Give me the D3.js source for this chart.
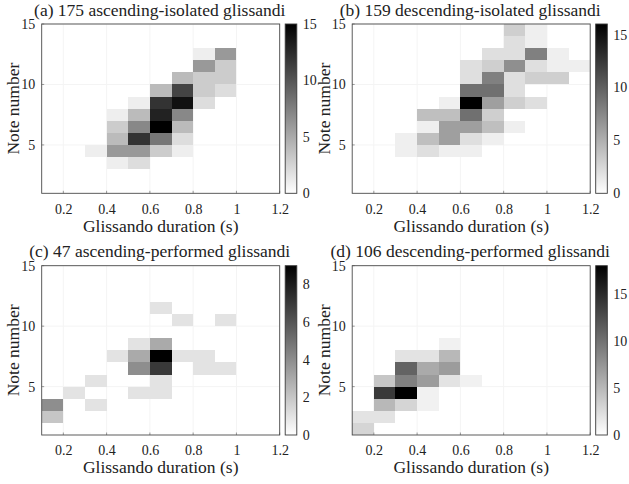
<!DOCTYPE html>
<html>
<head>
<meta charset="utf-8">
<script src="https://cdn.jsdelivr.net/npm/d3@7"></script>
<style>
  body { margin: 0; background: #fff; }
  svg text { font-family: "Liberation Serif", "Times New Roman", serif; fill: #222; }
</style>
</head>
<body>
<div id="plot"></div>
<script>
// glissando histograms: duration (s) x note number, counts per cell
// each cell: [duration bin start, note bin start, count]
var cellsA = [
  [0.8,12,1],[0.9,12,6],
  [0.8,11,6],[0.9,11,3],
  [0.7,10,4],[0.8,10,3],[0.9,10,3],
  [0.6,9,4],[0.7,9,11],[0.8,9,3],[0.9,9,2],
  [0.5,8,1],[0.6,8,12],[0.7,8,14],[0.8,8,2],
  [0.4,7,1],[0.5,7,4],[0.6,7,13],[0.7,7,7],
  [0.4,6,3],[0.5,6,7],[0.6,6,15],[0.7,6,4],
  [0.4,5,4],[0.5,5,12],[0.6,5,8],[0.7,5,2],
  [0.3,4,1],[0.4,4,6],[0.5,4,6],[0.6,4,3],[0.7,4,1],
  [0.4,3,1],[0.5,3,2]
];
var cellsB = [
  [0.8,14,3],[0.9,14,1],
  [0.8,13,2],[0.9,13,1],
  [0.7,12,2],[0.8,12,2],[0.9,12,8],[1.0,12,1],
  [0.6,11,2],[0.7,11,3],[0.8,11,7],[0.9,11,2],[1.0,11,1],[1.1,11,1],
  [0.6,10,2],[0.7,10,8],[0.8,10,2],[0.9,10,3],[1.0,10,3],
  [0.6,9,9],[0.7,9,9],[0.8,9,2],
  [0.5,8,1],[0.6,8,16],[0.7,8,6],[0.8,8,3],[0.9,8,2],
  [0.4,7,4],[0.5,7,4],[0.6,7,9],[0.7,7,3],
  [0.4,6,1],[0.5,6,6],[0.6,6,6],[0.7,6,4],[0.8,6,1],
  [0.3,5,1],[0.4,5,4],[0.5,5,6],[0.6,5,2],[0.7,5,1],
  [0.3,4,1],[0.4,4,2],[0.5,4,1],[0.6,4,1]
];
var cellsC = [
  [0.6,11,1],
  [0.7,10,1],[0.9,10,1],
  [0.5,8,1],[0.6,8,3],
  [0.4,7,1],[0.5,7,3],[0.6,7,9],[0.7,7,1],[0.8,7,1],
  [0.5,6,4],[0.6,6,7],[0.8,6,1],[0.9,6,1],
  [0.3,5,1],[0.6,5,1],
  [0.2,4,1],[0.5,4,1],[0.6,4,1],
  [0.1,3,4],[0.3,3,1],
  [0.1,2,2]
];
var cellsD = [
  [0.5,8,1],
  [0.3,7,2],[0.4,7,2],[0.5,7,5],
  [0.3,6,11],[0.4,6,6],[0.5,6,7],
  [0.2,5,4],[0.3,5,9],[0.4,5,7],[0.5,5,2],[0.6,5,1],
  [0.2,4,14],[0.3,4,18],[0.4,4,1],
  [0.2,3,5],[0.3,3,3],[0.4,3,1],
  [0.1,2,2],[0.2,2,2],
  [0.1,1,3]
];

var titles = ["(a) 175 ascending-isolated glissandi", "(b) 159 descending-isolated glissandi",
              "(c) 47 ascending-performed glissandi", "(d) 106 descending-performed glissandi"];
var cbarMax = [15, 16, 9, 18];
var cbarTicks = [[0,5,10,15],[0,5,10,15],[0,2,4,6,8],[0,5,10,15]];
var xTicks = [0.2,0.4,0.6,0.8,1,1.2];
var yTicks = [5,10,15];
var binW = 0.1, binH = 1;

var allCells = [cellsA, cellsB, cellsC, cellsD];

var width = 629, height = 484;
var pw = 238, ph = 169.3;
var lefts = [41.7, 352.2], tops = [24, 265.7];

var svg = d3.select('#plot').append('svg')
    .attr('width', width).attr('height', height);

var defs = svg.append('defs');
var grad = defs.append('linearGradient').attr('id','cgrad')
    .attr('x1',0).attr('y1',1).attr('x2',0).attr('y2',0);
grad.append('stop').attr('offset','0%').attr('stop-color','#fff');
grad.append('stop').attr('offset','100%').attr('stop-color','#000');

var x = d3.scaleLinear().domain([0.1,1.2]).range([0,pw]);
var y = d3.scaleLinear().domain([1,15]).range([ph,0]);

allCells.forEach(function(cells, i){
    var g = svg.append('g')
        .attr('transform','translate('+lefts[i%2]+','+tops[Math.floor(i/2)]+')');
    var color = d3.scaleLinear().domain([0,cbarMax[i]]).range(['#fff','#000']);

    g.append('rect').attr('width',pw).attr('height',ph).attr('fill','#fff');

    // faint grid
    g.selectAll('.gx').data(xTicks).enter().append('line')
        .attr('x1',d=>x(d)).attr('x2',d=>x(d)).attr('y1',0).attr('y2',ph)
        .attr('stroke','#f4f4f4');
    g.selectAll('.gy').data(yTicks).enter().append('line')
        .attr('y1',d=>y(d)).attr('y2',d=>y(d)).attr('x1',0).attr('x2',pw)
        .attr('stroke','#f4f4f4');

    g.selectAll('.cell').data(cells).enter().append('rect')
        .attr('x',d=>x(d[0]))
        .attr('y',d=>y(d[1]+binH))
        .attr('width',d=>x(d[0]+binW)-x(d[0]))
        .attr('height',d=>y(d[1])-y(d[1]+binH))
        .attr('fill',d=>color(d[2]))
        .attr('shape-rendering','crispEdges');

    // inward tick marks
    g.selectAll('.tx').data(xTicks).enter().append('line')
        .attr('x1',d=>x(d)).attr('x2',d=>x(d)).attr('y1',ph).attr('y2',ph-2.5)
        .attr('stroke','#999');
    g.selectAll('.ty').data(yTicks).enter().append('line')
        .attr('y1',d=>y(d)).attr('y2',d=>y(d)).attr('x1',0).attr('x2',2.5)
        .attr('stroke','#999');

    g.append('rect').attr('width',pw).attr('height',ph)
        .attr('fill','none').attr('stroke','#4a4a4a').attr('stroke-width',0.9);

    // axes
    var xa = g.append('g').attr('transform','translate(0,'+ph+')')
        .call(d3.axisBottom(x).tickValues(xTicks).tickSize(0).tickPadding(10.5).tickFormat(d3.format('')));
    var ya = g.append('g')
        .call(d3.axisLeft(y).tickValues(yTicks).tickSize(0).tickPadding(6.5));
    [xa,ya].forEach(function(a){
        a.select('.domain').remove();
        a.selectAll('text').style('font-size','14px').style('font-family','"Liberation Serif", serif').attr('fill','#222');
    });

    g.append('text').attr('x',pw/2).attr('y',ph+38.5)
        .attr('text-anchor','middle').style('font-size','17.5px')
        .text('Glissando duration (s)');
    g.append('text')
        .attr('transform','translate('+(-22.5)+','+(ph/2)+') rotate(-90)')
        .attr('text-anchor','middle').style('font-size','17.5px')
        .text('Note number');
    g.append('text').attr('x',pw/2 - 1).attr('y',-8.5)
        .attr('text-anchor','middle').style('font-size','17.5px')
        .text(titles[i]);

    // colorbar
    var cb = g.append('g').attr('transform','translate('+(pw+5.5)+',0)');
    var cy = d3.scaleLinear().domain([0,cbarMax[i]]).range([ph,0]);
    cb.append('rect').attr('width',11.6).attr('height',ph).attr('fill','url(#cgrad)')
        .attr('stroke','#3a3a3a').attr('stroke-width',0.9);
    var ca = cb.append('g').attr('transform','translate(11.6,0)')
        .call(d3.axisRight(cy).tickValues(cbarTicks[i]).tickSize(0).tickPadding(6));
    ca.select('.domain').remove();
    ca.selectAll('text').style('font-size','14px').style('font-family','"Liberation Serif", serif').attr('fill','#222');
});
</script>
</body>
</html>
